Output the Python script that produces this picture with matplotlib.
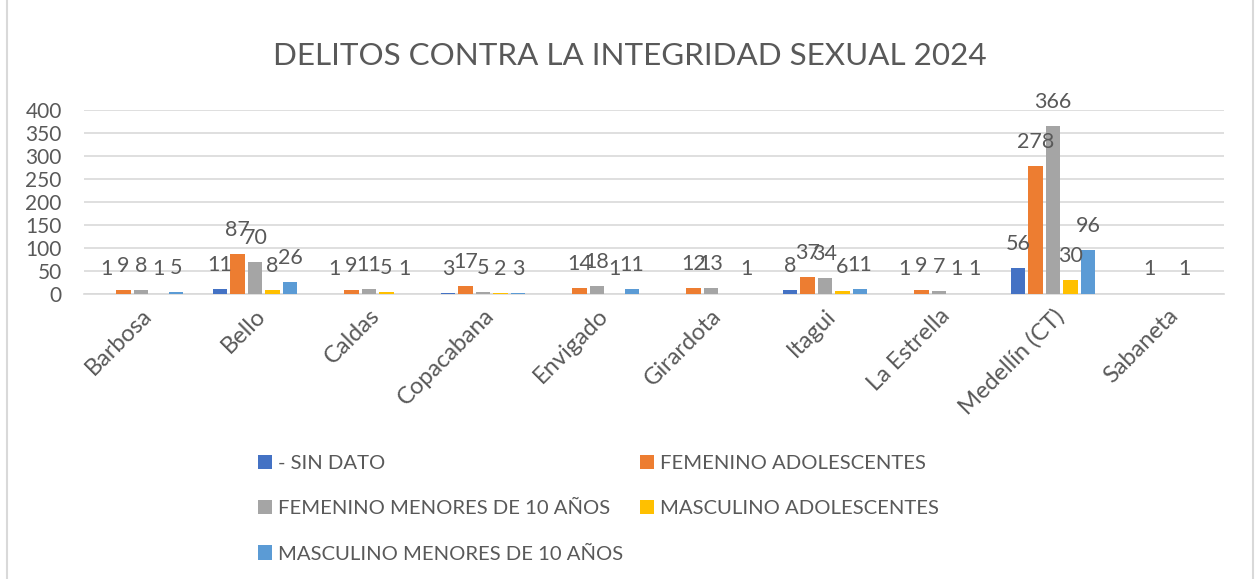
import numpy as np
import matplotlib
matplotlib.use("Agg")
import matplotlib.pyplot as plt
from matplotlib.lines import Line2D

plt.rcParams['font.family'] = ['Lato', 'DejaVu Sans']

categories = ["Barbosa", "Bello", "Caldas", "Copacabana", "Envigado", "Girardota",
              "Itagui", "La Estrella", "Medellín (CT)", "Sabaneta"]
series_names = ["- SIN DATO", "FEMENINO ADOLESCENTES", "FEMENINO MENORES DE 10 AÑOS",
                "MASCULINO ADOLESCENTES", "MASCULINO MENORES DE 10 AÑOS"]
nan = np.nan
sin_dato = [1, 11, 1, 3, nan, nan, 8, 1, 56, nan]
fem_adol = [9, 87, 9, 17, 14, 12, 37, 9, 278, 1]
fem_men10 = [8, 70, 11, 5, 18, 13, 34, 7, 366, nan]
masc_adol = [1, 8, 5, 2, 1, nan, 6, 1, 30, 1]
masc_men10 = [5, 26, 1, 3, 11, 1, 11, 1, 96, nan]
series_values = [sin_dato, fem_adol, fem_men10, masc_adol, masc_men10]
colors = ["#4472C4", "#ED7D31", "#A5A5A5", "#FFC000", "#5B9BD5"]
yticks = [0, 50, 100, 150, 200, 250, 300, 350, 400]

txt = "#595959"
W, H = 1256, 579
fig = plt.figure(figsize=(W / 100, H / 100), dpi=100)
ax = fig.add_axes([84 / W, 1 - 294 / H, (1224 - 84) / W, (294 - 110) / H])

x = np.arange(len(categories))
step = 0.1535
bw = 0.125
handles = []
for i, (name, vals, c) in enumerate(zip(series_names, series_values, colors)):
    v = np.array(vals, dtype=float)
    pos = x + (i - 2) * step
    bars = ax.bar(pos, np.nan_to_num(v), width=bw, color=c, label=name, zorder=3)
    handles.append(bars)
    for p, val in zip(pos, v):
        if np.isnan(val):
            continue
        ax.annotate(f"{int(val)}", (p, val), xytext=(0, 13), textcoords="offset points",
                    ha="center", va="baseline", fontsize=15.5, color=txt, zorder=4)

ax.set_xlim(-0.5, len(categories) - 0.5)
ax.set_ylim(0, 400)
ax.set_yticks(yticks)
ax.set_yticklabels([str(t) for t in yticks], fontsize=15, color=txt)
ax.yaxis.grid(True, color="#D9D9D9", linewidth=1.2, zorder=0)
ax.set_axisbelow(True)
for s in ["top", "right", "left"]:
    ax.spines[s].set_visible(False)
ax.spines["bottom"].set_color("#D9D9D9")
ax.spines["bottom"].set_linewidth(1.2)
ax.tick_params(axis="both", length=0)
ax.tick_params(axis="y", pad=16)
ax.set_xticks(x)
ax.set_xticklabels(categories, rotation=45, ha="right", rotation_mode="anchor",
                   fontsize=17, color=txt)
ax.tick_params(axis="x", pad=8)

fig.text(630 / W, 1 - 56 / H, "DELITOS CONTRA LA INTEGRIDAD SEXUAL 2024",
         ha="center", va="center", fontsize=22.6, color=txt)

order = [0, 2, 4, 1, 3]
leg = fig.legend([handles[k] for k in order], [series_names[k] for k in order],
                 ncol=2, loc="upper left", bbox_to_anchor=(258 / W, 1 - 455 / H),
                 frameon=False, fontsize=14.6, handlelength=0.7, handleheight=0.7,
                 handletextpad=0.3, columnspacing=0.8, labelspacing=1.38,
                 borderaxespad=0, borderpad=0)
for t in leg.get_texts():
    t.set_color(txt)

fig.add_artist(Line2D([7 / W, 7 / W], [0, 1], transform=fig.transFigure, color="#D9D9D9", lw=1.5))
fig.add_artist(Line2D([1253 / W, 1253 / W], [0, 1], transform=fig.transFigure, color="#D9D9D9", lw=1.5))

fig.savefig("out.png", dpi=100)
